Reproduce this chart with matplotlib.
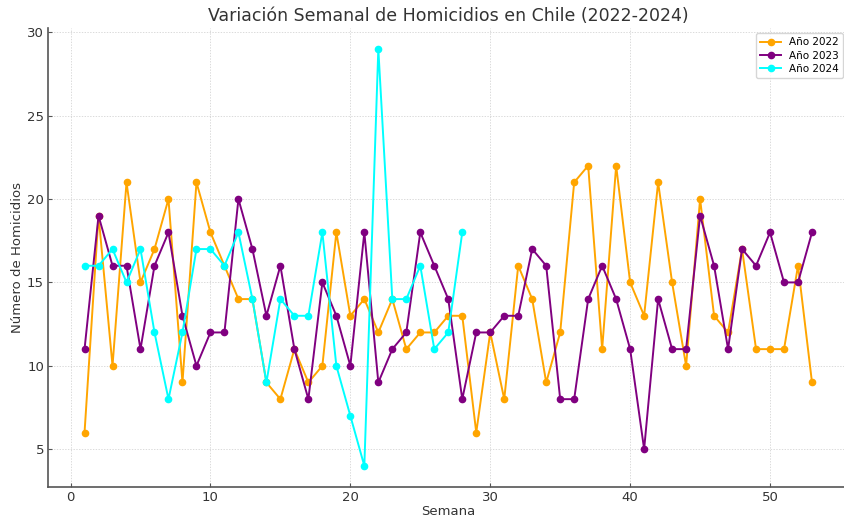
import numpy as np
import matplotlib.pyplot as plt

semanas_2022 = list(range(1, 54))
homicidios_2022 = [6, 19, 10, 21, 15, 17, 20, 9, 21, 18, 16, 14, 14, 9, 8, 11, 9, 10,
                   18, 13, 14, 12, 14, 11, 12, 12, 13, 13, 6, 12, 8, 16, 14, 9, 12, 21,
                   22, 11, 22, 15, 13, 21, 15, 10, 20, 13, 12, 17, 11, 11, 11, 16, 9]

semanas_2023 = list(range(1, 54))
homicidios_2023 = [11, 19, 16, 16, 11, 16, 18, 13, 10, 12, 12, 20, 17, 13, 16, 11, 8, 15,
                   13, 10, 18, 9, 11, 12, 18, 16, 14, 8, 12, 12, 13, 13, 17, 16, 8, 8,
                   14, 16, 14, 11, 5, 14, 11, 11, 19, 16, 11, 17, 16, 18, 15, 15, 18]

semanas_2024 = list(range(1, 29))
homicidios_2024 = [16, 16, 17, 15, 17, 12, 8, 12, 17, 17, 16, 18, 14, 9, 14, 13, 13, 18,
                   10, 7, 4, 29, 14, 14, 16, 11, 12, 18]

fig = plt.figure(figsize=(8.45, 5.2), dpi=100)
ax = fig.add_axes([0.057, 0.064, 0.947, 0.882])

ax.plot(semanas_2022, homicidios_2022, marker='o', markersize=4.5, linewidth=1.4, color='orange', label='Año 2022')
ax.plot(semanas_2023, homicidios_2023, marker='o', markersize=4.5, linewidth=1.4, color='purple', label='Año 2023')
ax.plot(semanas_2024, homicidios_2024, marker='o', markersize=4.5, linewidth=1.4, color='cyan', label='Año 2024')

ax.set_title('Variación Semanal de Homicidios en Chile (2022-2024)', fontsize=12.5, color='#333333', pad=5)
ax.set_xlabel('Semana', fontsize=9.5, color='#333333', labelpad=1)
ax.set_ylabel('Número de Homicidios', fontsize=9.5, color='#333333', labelpad=2)
ax.set_yticks([5, 10, 15, 20, 25, 30])
ax.set_xticks([0, 10, 20, 30, 40, 50])
ax.tick_params(direction='in', length=3, width=0.8, color='#555555', labelsize=9.5, labelcolor='#333333', pad=3)
ax.grid(True, linestyle=(0, (2, 2)), linewidth=0.5, color='#cccccc')
for side in ['top', 'right']:
    ax.spines[side].set_visible(False)
for side in ['left', 'bottom']:
    ax.spines[side].set_color('#555555')
    ax.spines[side].set_linewidth(1.2)

ax.legend(loc='upper right', fontsize=7.5, frameon=True, borderpad=0.4, handlelength=2, labelspacing=0.3)

fig.savefig('out.png', dpi=100)
